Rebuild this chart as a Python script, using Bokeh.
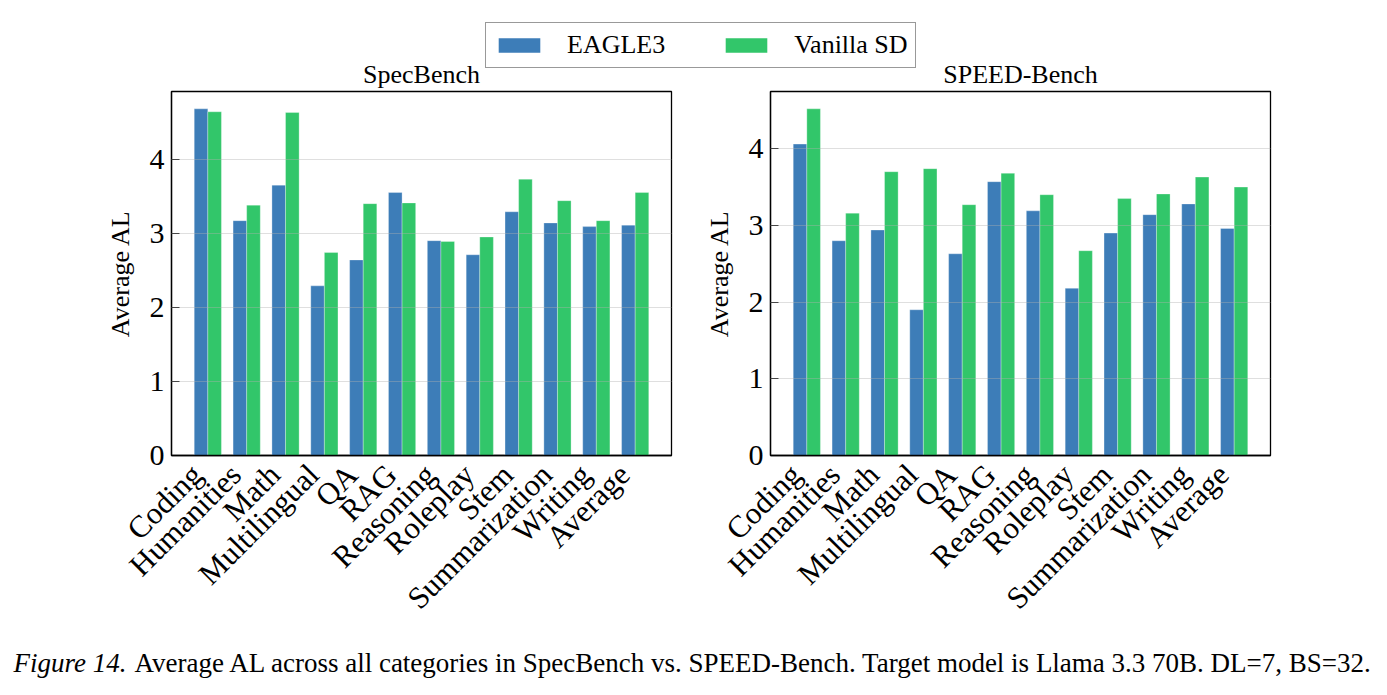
import numpy as np
from bokeh.plotting import figure
from bokeh.models import Range1d, FixedTicker, Legend, LegendItem, ColumnDataSource
from bokeh.layouts import column, row
from bokeh.embed import file_html
from bokeh.resources import INLINE
from bokeh.core.properties import value
from bokeh.transform import dodge

# ---------------- data ----------------
categories = ["Coding", "Humanities", "Math", "Multilingual", "QA", "RAG", "Reasoning",
              "Roleplay", "Stem", "Summarization", "Writing", "Average"]
spec_eagle3 = [4.68, 3.17, 3.65, 2.29, 2.64, 3.55, 2.90, 2.71, 3.29, 3.14, 3.09, 3.11]
spec_vanilla = [4.64, 3.38, 4.63, 2.74, 3.40, 3.41, 2.89, 2.95, 3.73, 3.44, 3.17, 3.55]
speed_eagle3 = [4.06, 2.80, 2.94, 1.90, 2.63, 3.57, 3.19, 2.18, 2.90, 3.14, 3.28, 2.96]
speed_vanilla = [4.52, 3.16, 3.70, 3.74, 3.27, 3.68, 3.40, 2.67, 3.35, 3.41, 3.63, 3.50]
y_ticks = [0, 1, 2, 3, 4]
titles = ["SpecBench", "SPEED-Bench"]
series = ["EAGLE3", "Vanilla SD"]
y_label = "Average AL"
caption_head = "Figure 14."
caption_body = ("Average AL across all categories in SpecBench vs. SPEED-Bench. "
                "Target model is Llama 3.3 70B. DL=7, BS=32.")

# ---------------- style ----------------
BLUE = "#3d7db8"
GREEN = "#32c66a"
FONT = "Liberation Serif"
W = 1387
TOP_H = 89
FRAME_H = 364
BOTTOM_B = 190
PANEL_H = 2 + FRAME_H + BOTTOM_B
CAP_H = 695 - TOP_H - PANEL_H
BAR_W = 0.35
LABEL_PAD = "\u00a0\u00a0"   # nudges rotated labels so their ends sit like matplotlib's ha='right'


def panel(eagle, vanilla, width, left, right):
    n = len(categories)
    idx = list(range(n))
    src = ColumnDataSource(dict(x=idx, e=eagle, v=vanilla))
    span = (n - 1) + 2 * BAR_W
    ymax = 1.05 * max(max(eagle), max(vanilla))
    p = figure(width=width, height=PANEL_H, output_backend="svg", toolbar_location=None,
               x_range=Range1d(-BAR_W - 0.05 * span, n - 1 + BAR_W + 0.05 * span),
               y_range=Range1d(0, ymax),
               min_border_left=left, min_border_right=right,
               min_border_top=2, min_border_bottom=BOTTOM_B)
    p.vbar(x=dodge("x", -BAR_W / 2), top="e", width=BAR_W, source=src,
           fill_color=BLUE, line_color="white", line_width=0.6, line_alpha=0.5)
    p.vbar(x=dodge("x", BAR_W / 2), top="v", width=BAR_W, source=src,
           fill_color=GREEN, line_color="white", line_width=0.6, line_alpha=0.5)

    p.xaxis.ticker = FixedTicker(ticks=idx)
    p.xaxis.major_label_overrides = {i: c + LABEL_PAD for i, c in enumerate(categories)}
    p.xaxis.major_label_orientation = np.pi / 4
    p.xaxis.major_tick_in = 0
    p.xaxis.major_tick_out = 0
    p.xaxis.minor_tick_in = 0
    p.xaxis.minor_tick_out = 0
    p.xaxis.major_label_standoff = 3
    p.xaxis.major_label_text_font_size = "31px"
    p.yaxis.ticker = FixedTicker(ticks=y_ticks)
    p.yaxis.major_tick_in = 8
    p.yaxis.major_tick_out = 0
    p.yaxis.minor_tick_in = 0
    p.yaxis.minor_tick_out = 0
    p.yaxis.major_label_standoff = 7
    p.yaxis.major_label_text_font_size = "30px"
    p.yaxis.axis_label = y_label
    p.yaxis.axis_label_standoff = 12
    p.yaxis.axis_label_text_font = FONT
    p.yaxis.axis_label_text_font_size = "26px"
    p.yaxis.axis_label_text_font_style = "normal"
    p.yaxis.axis_label_text_color = "black"
    for ax in (p.xaxis, p.yaxis):
        ax.major_label_text_font = FONT
        ax.major_label_text_color = "black"
        ax.axis_line_color = "black"
        ax.axis_line_width = 1.3
        ax.major_tick_line_color = "black"
        ax.major_tick_line_width = 1
    p.xgrid.visible = False
    p.ygrid.grid_line_color = "#b0b0b0"
    p.ygrid.grid_line_alpha = 0.4
    p.ygrid.level = "annotation"
    p.outline_line_color = "black"
    p.outline_line_width = 1.3
    p.outline_line_alpha = 1
    p.background_fill_color = "white"
    p.border_fill_color = "white"
    return p


p1 = panel(spec_eagle3, spec_vanilla, 700, 171, 29)
p2 = panel(speed_eagle3, speed_vanilla, W - 700, 70, W - 700 - 70 - 500)

# ---------------- top strip: legend + panel titles ----------------
top = figure(width=W, height=TOP_H, output_backend="svg", toolbar_location=None,
             x_range=Range1d(0, W), y_range=Range1d(TOP_H, 0),
             x_axis_location=None, y_axis_location=None, min_border=0)
top.grid.visible = False
top.outline_line_color = None
# zero-height proxies carrying the series styles for the shared legend
idx = list(range(len(categories)))
r1 = top.vbar(x=idx, bottom=spec_eagle3, top=spec_eagle3, width=BAR_W,
              fill_color=BLUE, line_color=BLUE, line_alpha=0)
r2 = top.vbar(x=idx, bottom=spec_vanilla, top=spec_vanilla, width=BAR_W,
              fill_color=GREEN, line_color=GREEN, line_alpha=0)
legend = Legend(items=[LegendItem(label=series[0], renderers=[r1]),
                       LegendItem(label=series[1], renderers=[r2])],
                location=(485, TOP_H - 68), orientation="horizontal",
                margin=0, padding=7, spacing=55, label_standoff=22,
                glyph_width=52, glyph_height=18, label_height=26,
                label_text_font=FONT, label_text_font_size="26px",
                label_text_color="black", label_text_baseline="middle",
                border_line_color="#333333", border_line_width=1,
                background_fill_alpha=1)
top.add_layout(legend)
top.text(x=[421, 1020], y=[74, 74], text=titles, text_align="center",
         text_baseline="alphabetic", text_font=value(FONT), text_font_size="26px",
         text_color="black")

# ---------------- caption ----------------
cap = figure(width=W, height=CAP_H, output_backend="svg", toolbar_location=None,
             x_range=Range1d(0, W), y_range=Range1d(CAP_H, 0),
             x_axis_location=None, y_axis_location=None, min_border=0)
cap.grid.visible = False
cap.outline_line_color = None
cap_y = 670 - (TOP_H + PANEL_H) - 8
cap.text(x=[13], y=[cap_y], text=[caption_head], text_align="left", text_baseline="alphabetic",
         text_font=value(FONT), text_font_size="27px", text_font_style="italic",
         text_color="black")
cap.text(x=[134], y=[cap_y], text=[caption_body], text_align="left", text_baseline="alphabetic",
         text_font=value(FONT), text_font_size="27px", text_color="black")

layout = column(top, row(p1, p2), cap)
open("out.html", "w").write(file_html(layout, INLINE))
